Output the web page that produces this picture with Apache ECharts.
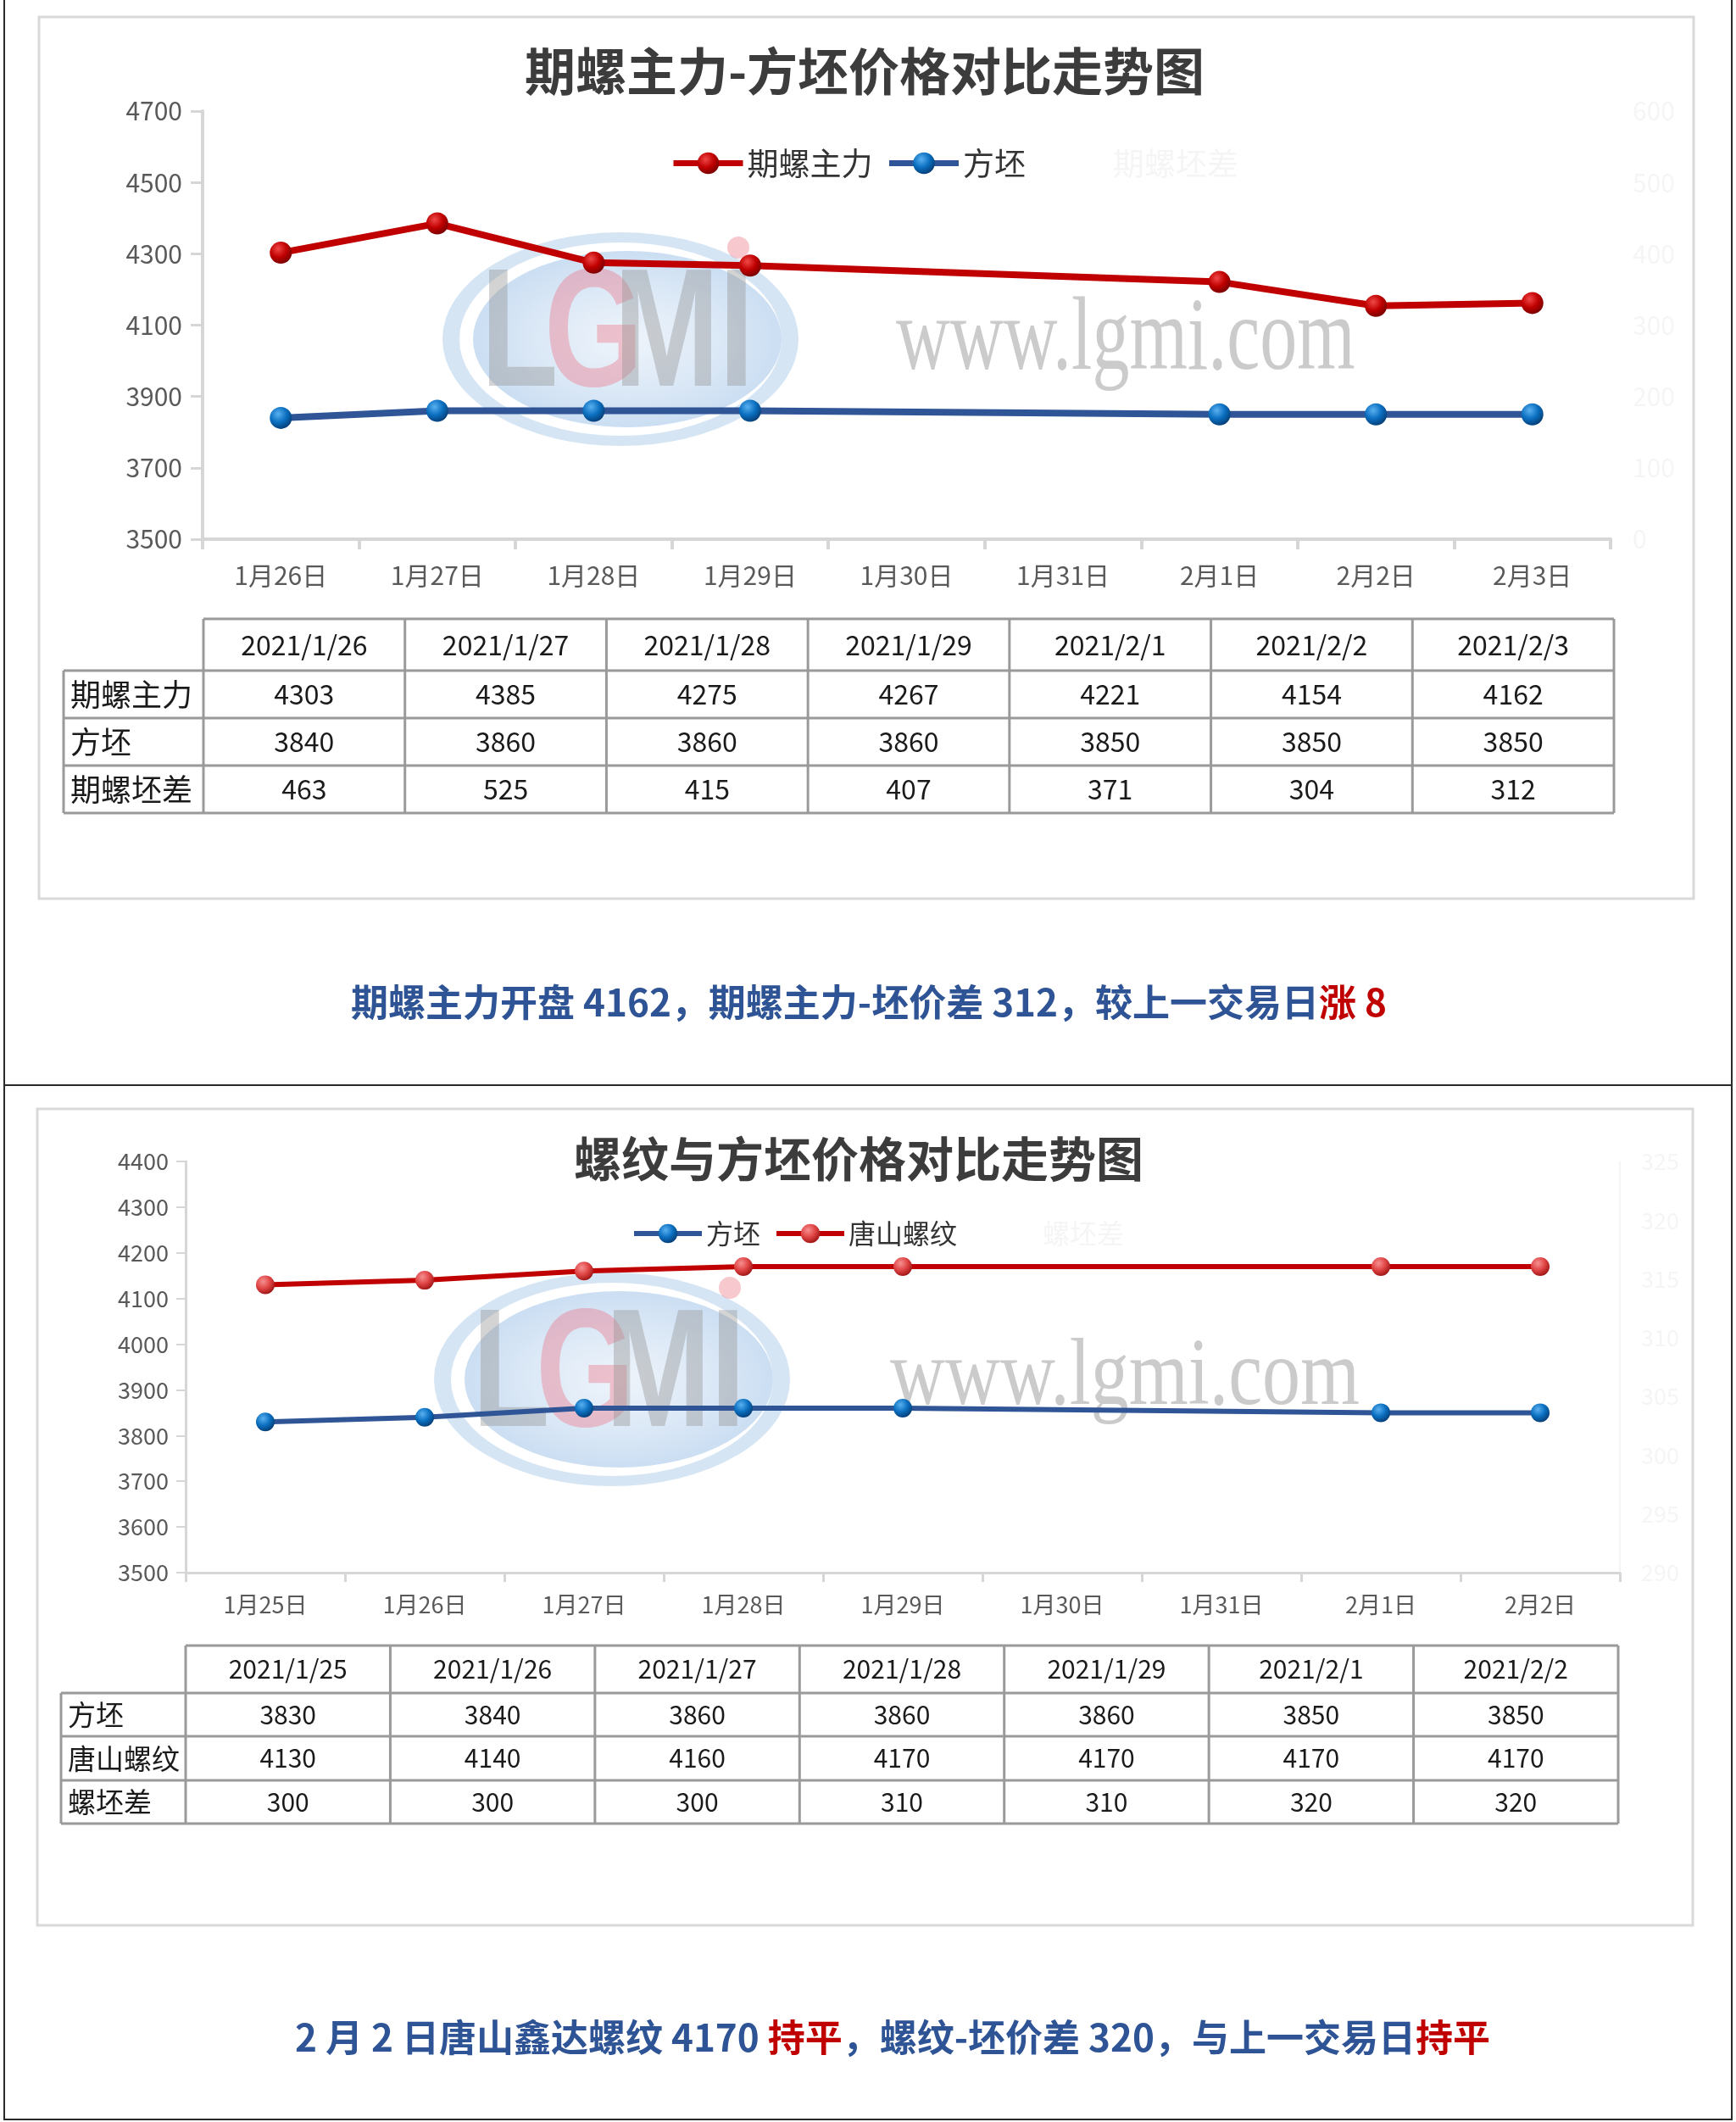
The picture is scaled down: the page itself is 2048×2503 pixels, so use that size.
<!DOCTYPE html>
<html><head><meta charset="utf-8">
<script src="https://cdn.jsdelivr.net/npm/echarts@6/dist/echarts.min.js"></script>
<style>html,body{margin:0;padding:0;background:#fff}#c{width:2048px;height:2503px}</style>
</head><body><div id="c"></div>
<script>
// ---------- Chart 1 data ----------
const cats1 = ['1月26日','1月27日','1月28日','1月29日','1月30日','1月31日','2月1日','2月2日','2月3日'];
const dates1 = ['2021/1/26','2021/1/27','2021/1/28','2021/1/29','2021/2/1','2021/2/2','2021/2/3'];
const futures1 = [4303,4385,4275,4267,4221,4154,4162];
const billet1 = [3840,3860,3860,3860,3850,3850,3850];
const spread1 = [463,525,415,407,371,304,312];
const yAxis1Range = [3500, 4700, 200];
const yAxis1bRange = [0, 600, 100];

// ---------- Chart 2 data ----------
const cats2 = ['1月25日','1月26日','1月27日','1月28日','1月29日','1月30日','1月31日','2月1日','2月2日'];
const dates2 = ['2021/1/25','2021/1/26','2021/1/27','2021/1/28','2021/1/29','2021/2/1','2021/2/2'];
const billet2 = [3830,3840,3860,3860,3860,3850,3850];
const rebar2 = [4130,4140,4160,4170,4170,4170,4170];
const spread2 = [300,300,300,310,310,320,320];
const yAxis2Range = [3500, 4400, 100];
const yAxis2bRange = [290, 325, 5];

const title1 = '期螺主力-方坯价格对比走势图';
const title2 = '螺纹与方坯价格对比走势图';

const FF = '"Noto Sans CJK SC","Noto Sans",sans-serif';
const RED = '#C00000', BLUE = '#2F5597';
const FAINT = '#f5f5f5';

function toCat(d){ const p = d.split('/'); return p[1] + '月' + p[2] + '日'; }
function pairs(dates, vals){ return dates.map((d,i)=>[toCat(d), vals[i]]); }
function ball(c0,c1,c2){ return {type:'radial',x:0.38,y:0.32,r:0.7,colorStops:[{offset:0,color:c0},{offset:0.55,color:c1},{offset:1,color:c2}]}; }
const redBall1 = ball('#f04848','#c00000','#7a0000');
const redBall2 = ball('#f59090','#e04444','#a01616');
const blueBall = ball('#5ab0f0','#0a6fc0','#063f78');
const plain = function(v){ return String(v); };

function valueAxis(grid, r, opts){
  return Object.assign({type:'value', gridIndex:grid, min:r[0], max:r[1], interval:r[2], splitLine:{show:false}}, opts);
}
function catAxis(grid, data, opts){
  return Object.assign({type:'category', gridIndex:grid, data:data, boundaryGap:true, splitLine:{show:false}}, opts);
}

// ---------- graphic elements ----------
const els = [];
function line(x1,y1,x2,y2,stroke,w,z){ els.push({type:'line', shape:{x1,y1,x2,y2}, style:{stroke:stroke, lineWidth:w}, z:z||5, silent:true}); }
function txt(x,y,t,font,fill,align,z){ els.push({type:'text', x:x, y:y, style:{text:t, font:font, fill:fill, align:align||'center', verticalAlign:'middle'}, z:z||5, silent:true}); }

// outer page lines
line(5,0,5,2501,'#2a2a2a',2); line(2043,0,2043,2501,'#2a2a2a',2);
line(5,1280,2043,1280,'#2a2a2a',2); line(5,2500,2043,2500,'#2a2a2a',2);
// chart frames
els.push({type:'rect', shape:{x:46,y:20,width:1952,height:1040}, style:{fill:'none',stroke:'#d9d9d9',lineWidth:3}, z:0, silent:true});
els.push({type:'rect', shape:{x:44,y:1308,width:1953,height:963}, style:{fill:'none',stroke:'#d9d9d9',lineWidth:3}, z:0, silent:true});

// titles
txt(1020, 84, title1, 'bold 60px '+FF, '#3c3c3c');
txt(1013, 1367, title2, 'bold 56px '+FF, '#3c3c3c');

// watermarks
function logo(cx, cy){
  const gray = 'rgba(150,150,150,0.42)', pink = 'rgba(236,110,128,0.38)';
  els.push({type:'circle', x:cx, y:cy, scaleX:200/120, scaleY:1, shape:{cx:0,cy:0,r:120}, style:{fill:'none', stroke:'rgba(165,198,230,0.45)', lineWidth:12, strokeNoScale:true}, z:1, silent:true});
  els.push({type:'circle', x:cx+8, y:cy, scaleX:182/104, scaleY:1, shape:{cx:0,cy:0,r:104}, style:{fill:{type:'radial',x:0.5,y:0.5,r:0.5,colorStops:[{offset:0,color:'rgba(205,222,242,0.35)'},{offset:1,color:'rgba(160,195,232,0.55)'}]}}, z:1, silent:true});
  [['L',-165,gray],['G',-90,pink],['M',-8,gray],['I',116,gray]].forEach(function(a){
    els.push({type:'text', x:cx+a[1], y:cy, scaleY:1.33, style:{text:a[0], font:'bold 150px "Liberation Sans"', fill:a[2], align:'left', verticalAlign:'middle'}, z:1, silent:true});
  });
  els.push({type:'circle', shape:{cx:cx+139, cy:cy-108, r:13}, style:{fill:pink}, z:1, silent:true});
}
logo(732, 400);
logo(722, 1627);
els.push({type:'text', x:1057, y:403, scaleY:1.4, style:{text:'www.lgmi.com', font:'88px "Liberation Serif"', fill:'rgba(140,140,140,0.45)', align:'left', verticalAlign:'middle'}, z:1, silent:true});
els.push({type:'text', x:1050, y:1626, scaleY:1.25, style:{text:'www.lgmi.com', font:'90px "Liberation Serif"', fill:'rgba(140,140,140,0.45)', align:'left', verticalAlign:'middle'}, z:1, silent:true});

// tables
function buildTable(T, headers, rows, fs){
  const n = headers.length, colW = (T.x1 - T.x0)/n, ys = T.ys, last = ys[ys.length-1];
  const c = '#9a9a9a';
  line(T.x0, ys[0], T.x1, ys[0], c, 3);
  for (let r=1;r<ys.length;r++) line(T.lx, ys[r], T.x1, ys[r], c, 3);
  line(T.lx, ys[1], T.lx, last, c, 3);
  for (let k=0;k<=n;k++) line(T.x0+k*colW, ys[0], T.x0+k*colW, last, c, 3);
  headers.forEach(function(h,k){ txt(T.x0+(k+0.5)*colW, (ys[0]+ys[1])/2, h, fs.head+'px '+FF, '#1a1a1a'); });
  rows.forEach(function(row,r){
    const yc = (ys[r+1]+ys[r+2])/2;
    txt(T.lx+8, yc, row[0], fs.label+'px '+FF, '#1a1a1a', 'left');
    row[1].forEach(function(v,k){ txt(T.x0+(k+0.5)*colW, yc, String(v), fs.val+'px '+FF, '#1a1a1a'); });
  });
}
buildTable({x0:240, x1:1904, lx:75, ys:[730,791,847,903,959]}, dates1,
  [['期螺主力',futures1],['方坯',billet1],['期螺坯差',spread1]], {head:32, val:32, label:36});
buildTable({x0:219, x1:1909, lx:72, ys:[1941,1997,2048,2100,2151]}, dates2,
  [['方坯',billet2],['唐山螺纹',rebar2],['螺坯差',spread2]], {head:30, val:30, label:33});

// captions
function changeText(ch){ return ch === 0 ? '持平' : (ch > 0 ? '涨 ' + ch : '跌 ' + (-ch)); }
const n1 = futures1.length, n2 = rebar2.length;
const cap1 = '{b|期螺主力开盘 ' + futures1[n1-1] + '，期螺主力-坯价差 ' + spread1[n1-1] + '，较上一交易日}{r|' + changeText(spread1[n1-1]-spread1[n1-2]) + '}';
const lastD = dates2[n2-1].split('/');
const cap2 = '{b|' + lastD[1] + ' 月 ' + lastD[2] + ' 日唐山鑫达螺纹 ' + rebar2[n2-1] + ' }{r|' + changeText(rebar2[n2-1]-rebar2[n2-2]) + '}{b|，螺纹-坯价差 ' + spread2[n2-1] + '，与上一交易日}{r|' + changeText(spread2[n2-1]-spread2[n2-2]) + '}';
const capRich = {b:{fill:'#2E5496', fontSize:44, fontWeight:'bold', fontFamily:FF}, r:{fill:'#C00000', fontSize:44, fontWeight:'bold', fontFamily:FF}};
els.push({type:'text', x:1025, y:1182, style:{text:cap1, rich:capRich, align:'center', verticalAlign:'middle'}, z:5, silent:true});
els.push({type:'text', x:1053, y:2403, style:{text:cap2, rich:capRich, align:'center', verticalAlign:'middle'}, z:5, silent:true});

// ---------- axes ----------
const axLine1 = {show:true, lineStyle:{color:'#d6d6d6', width:4}};
const axLine2 = {show:true, lineStyle:{color:'#d6d6d6', width:3}};
const lab1 = {fontSize:30, color:'#595959', fontFamily:FF};
const lab2 = {fontSize:27, color:'#595959', fontFamily:FF};

const option = {
  animation:false,
  backgroundColor:'#ffffff',
  grid:[{left:239, top:131, width:1661, height:505}, {left:219, top:1370, width:1692, height:485}],
  xAxis:[
    catAxis(0, cats1, {axisLine:axLine1, axisTick:{show:true, length:12, interval:0, lineStyle:{color:'#d6d6d6', width:4}}, axisLabel:Object.assign({margin:28, interval:0}, lab1)}),
    catAxis(1, cats2, {axisLine:axLine2, axisTick:{show:true, length:11, interval:0, lineStyle:{color:'#d6d6d6', width:3}}, axisLabel:Object.assign({margin:24, interval:0}, lab2)})
  ],
  yAxis:[
    valueAxis(0, yAxis1Range, {position:'left', axisLine:axLine1, axisTick:{show:true, length:14, lineStyle:{color:'#d6d6d6', width:3}}, axisLabel:Object.assign({margin:24, formatter:plain}, lab1)}),
    valueAxis(0, yAxis1bRange, {position:'right', axisLine:{show:false}, axisTick:{show:false}, axisLabel:{margin:26, fontSize:30, color:FAINT, fontFamily:FF, formatter:plain}}),
    valueAxis(1, yAxis2Range, {position:'left', axisLine:axLine2, axisTick:{show:true, length:11, lineStyle:{color:'#d6d6d6', width:2}}, axisLabel:Object.assign({margin:20, formatter:plain}, lab2)}),
    valueAxis(1, yAxis2bRange, {position:'right', axisLine:{show:true, lineStyle:{color:'#f5f5f5', width:2}}, axisTick:{show:false}, axisLabel:{margin:25, fontSize:27, color:FAINT, fontFamily:FF, formatter:plain}})
  ],
  legend:[
    {left:786, top:169, itemWidth:82, itemHeight:32, itemGap:16, selectedMode:false,
     lineStyle:{width:7},
     textStyle:{fontSize:37, color:'#333333', fontFamily:FF},
     data:['期螺主力','方坯',{name:'期螺坯差', icon:'rect', itemStyle:{opacity:0}, lineStyle:{opacity:0}, textStyle:{color:FAINT}}]},
    {left:740, top:1434, itemWidth:80, itemHeight:28, itemGap:16, selectedMode:false,
     lineStyle:{width:6},
     textStyle:{fontSize:32, color:'#333333', fontFamily:FF},
     data:['方坯','唐山螺纹',{name:'螺坯差', icon:'rect', itemStyle:{opacity:0}, lineStyle:{opacity:0}, textStyle:{color:FAINT}}]}
  ],
  graphic:{elements:els},
  series:[
    {name:'期螺主力', type:'line', xAxisIndex:0, yAxisIndex:0, data:pairs(dates1, futures1), symbol:'circle', symbolSize:26, lineStyle:{color:RED, width:8}, itemStyle:{color:redBall1}, z:4},
    {name:'方坯', type:'line', xAxisIndex:0, yAxisIndex:0, data:pairs(dates1, billet1), symbol:'circle', symbolSize:26, lineStyle:{color:BLUE, width:8}, itemStyle:{color:blueBall}, z:4},
    {name:'期螺坯差', type:'line', xAxisIndex:0, yAxisIndex:1, data:pairs(dates1, spread1), symbol:'none', lineStyle:{opacity:0}, itemStyle:{color:FAINT}, silent:true},
    {name:'方坯', type:'line', xAxisIndex:1, yAxisIndex:2, data:pairs(dates2, billet2), symbol:'circle', symbolSize:22, lineStyle:{color:BLUE, width:6}, itemStyle:{color:blueBall}, z:4},
    {name:'唐山螺纹', type:'line', xAxisIndex:1, yAxisIndex:2, data:pairs(dates2, rebar2), symbol:'circle', symbolSize:22, lineStyle:{color:RED, width:6}, itemStyle:{color:redBall2}, z:4},
    {name:'螺坯差', type:'line', xAxisIndex:1, yAxisIndex:3, data:pairs(dates2, spread2), symbol:'none', lineStyle:{opacity:0}, itemStyle:{color:FAINT}, silent:true}
  ]
};
const chart = echarts.init(document.getElementById('c'));
chart.setOption(option);
</script>
</body></html>
